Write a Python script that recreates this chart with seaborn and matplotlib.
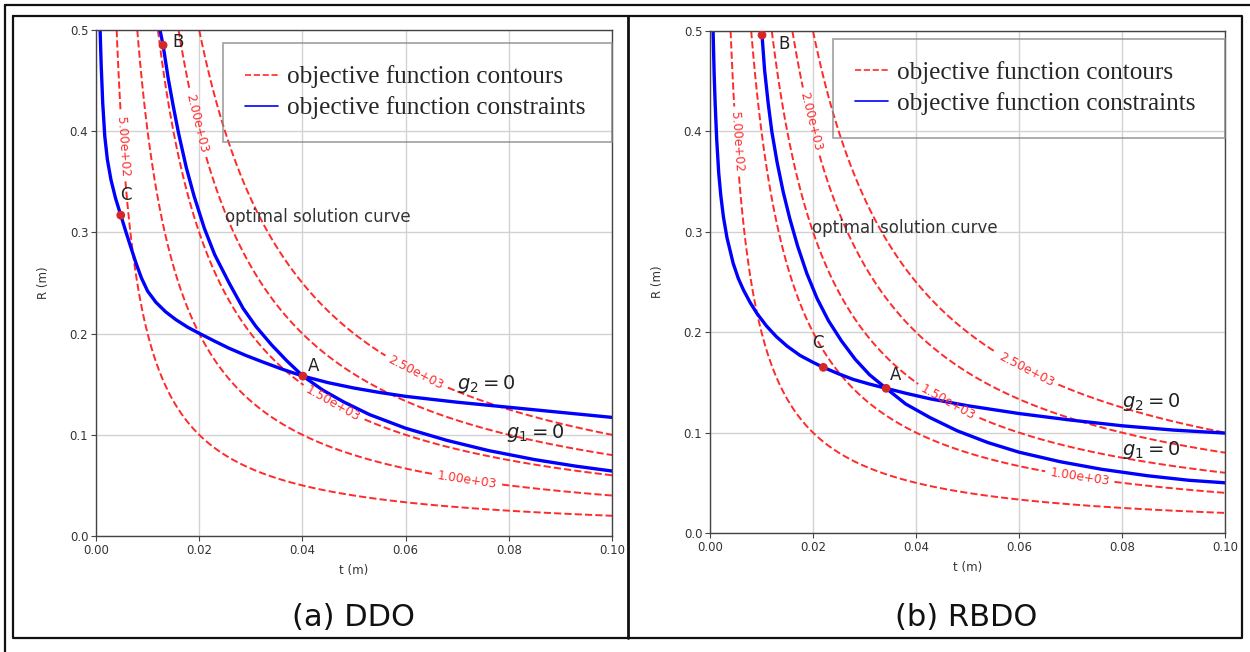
import numpy as np
import pandas as pd
import matplotlib
matplotlib.use("Agg")
import matplotlib.pyplot as plt
import seaborn as sns
from matplotlib.lines import Line2D
from matplotlib.ticker import FormatStrFormatter

# ---------------- data ----------------
contour_levels = [500, 1000, 1500, 2000, 2500]
objective_coef = 2.5e5          # objective value = coef * t * R (contour labels)

# (a) DDO
a_g2_t = [0.0008, 0.0010, 0.0013, 0.0017, 0.0022, 0.0029, 0.0038, 0.0048, 0.0058,
          0.0068, 0.0078, 0.0088, 0.0100, 0.0116, 0.0135, 0.0155, 0.0178, 0.0200,
          0.0230, 0.0258, 0.0290, 0.0323, 0.0360, 0.0401, 0.0450, 0.0500, 0.0550,
          0.0600, 0.0700, 0.0800, 0.0900, 0.1000]
a_g2_R = [0.500, 0.466, 0.428, 0.395, 0.372, 0.352, 0.3335, 0.317, 0.3005,
          0.2845, 0.2690, 0.2550, 0.2420, 0.2310, 0.2215, 0.2137, 0.2062, 0.2003,
          0.1925, 0.1855, 0.1785, 0.1720, 0.1650, 0.1580, 0.1515, 0.1462, 0.1418,
          0.1380, 0.1322, 0.1272, 0.1222, 0.1172]
a_g1_t = [0.0124, 0.0130, 0.0140, 0.0150, 0.0160, 0.0175, 0.0190, 0.0210, 0.0230,
          0.0258, 0.0285, 0.0310, 0.0340, 0.0370, 0.0401, 0.0440, 0.0480, 0.0530,
          0.0600, 0.0680, 0.0760, 0.0850, 0.0930, 0.1000]
a_g1_R = [0.500, 0.485, 0.452, 0.424, 0.398, 0.364, 0.336, 0.304, 0.278,
          0.250, 0.225, 0.207, 0.189, 0.173, 0.158, 0.144, 0.1325, 0.120,
          0.1065, 0.0945, 0.0845, 0.0755, 0.0690, 0.0642]
a_pts_t = [0.0401, 0.0130, 0.0048]
a_pts_R = [0.1580, 0.485, 0.317]

# (b) RBDO
b_g2_t = [0.0006, 0.0008, 0.0010, 0.0013, 0.0017, 0.0021, 0.0026, 0.0033, 0.0045,
          0.0055, 0.0065, 0.0078, 0.0091, 0.0110, 0.0129, 0.0150, 0.0175, 0.0200,
          0.0220, 0.0250, 0.0278, 0.0310, 0.0342, 0.0380, 0.0427, 0.0500, 0.0600,
          0.0700, 0.0800, 0.0900, 0.1000]
b_g2_R = [0.500, 0.458, 0.428, 0.392, 0.358, 0.336, 0.315, 0.294, 0.2686,
          0.2535, 0.2420, 0.2295, 0.2188, 0.2060, 0.1955, 0.1860, 0.1768, 0.1700,
          0.1650, 0.1585, 0.1530, 0.1483, 0.1441, 0.1392, 0.1337, 0.1268, 0.1190,
          0.1125, 0.1068, 0.1025, 0.0995]
b_g1_t = [0.0099, 0.0101, 0.0106, 0.0113, 0.0120, 0.0130, 0.0142, 0.0155, 0.0170,
          0.0188, 0.0208, 0.0230, 0.0255, 0.0282, 0.0310, 0.0342, 0.0380, 0.0427,
          0.0480, 0.0540, 0.0600, 0.0680, 0.0760, 0.0850, 0.0930, 0.1000]
b_g1_R = [0.500, 0.496, 0.461, 0.428, 0.400, 0.370, 0.340, 0.313, 0.286,
          0.2585, 0.2335, 0.2115, 0.1915, 0.1730, 0.1575, 0.1441, 0.1285, 0.1150,
          0.1018, 0.0900, 0.0805, 0.0710, 0.0635, 0.0570, 0.0525, 0.0500]
b_pts_t = [0.0342, 0.0101, 0.0220]
b_pts_R = [0.1441, 0.496, 0.165]

point_names = ["A", "B", "C"]
x_ticks = [0.00, 0.02, 0.04, 0.06, 0.08, 0.10]
y_ticks = [0.0, 0.1, 0.2, 0.3, 0.4, 0.5]
legend_labels = ["objective function contours", "objective function constraints"]
panel_titles = ["(a) DDO", "(b) RBDO"]

# ---------------- style ----------------
sns.set_theme(style="whitegrid")
plt.rcParams['font.family'] = ['DejaVu Sans']

W, H = 1250, 652
fig = plt.figure(figsize=(W / 100, H / 100), dpi=100)
fig.patch.set_facecolor("white")


def px_rect(l, t, r, b):
    return [l / W, 1 - b / H, (r - l) / W, (b - t) / H]


axA = fig.add_axes(px_rect(96, 30, 612, 536))
axB = fig.add_axes(px_rect(710, 31, 1225, 533))

RED = "#ff2b2b"
BLUE = "#0000ff"
DOT = "#d62728"

tg = np.linspace(0.0003, 0.1, 600)
rg = np.linspace(0.001, 0.5, 600)
TT, RR = np.meshgrid(tg, rg)
ZZ = objective_coef * TT * RR

panels = [
    dict(ax=axA, g1=(a_g1_t, a_g1_R), g2=(a_g2_t, a_g2_R), pts=(a_pts_t, a_pts_R),
         lbl_pos=[(0.0052, 0.385), (0.072, 0.056), (0.046, 0.131), (0.0196, 0.408), (0.062, 0.161)],
         pt_off=[((5, 1), 'left', 'bottom'), ((9, 3), 'left', 'center'), ((-1, 11), 'left', 'bottom')],
         g2_txt=(0.0700, 0.1395), g1_txt=(0.0795, 0.0905),
         opt_txt=(0.0250, 0.306),
         leg=(0.246, 0.974)),
    dict(ax=axB, g1=(b_g1_t, b_g1_R), g2=(b_g2_t, b_g2_R), pts=(b_pts_t, b_pts_R),
         lbl_pos=[(0.0054, 0.39), (0.0718, 0.0558), (0.0462, 0.130), (0.0198, 0.41), (0.0617, 0.165)],
         pt_off=[((4, 4), 'left', 'bottom'), ((16, -9), 'left', 'center'), ((0, 15), 'right', 'bottom')],
         g2_txt=(0.0800, 0.120), g1_txt=(0.0800, 0.0715),
         opt_txt=(0.0198, 0.295),
         leg=(0.239, 0.984)),
]

for p in panels:
    ax = p["ax"]
    ax.set_facecolor("white")
    cs = ax.contour(TT, RR, ZZ, levels=contour_levels, colors=RED,
                    linestyles="--", linewidths=1.4)
    ax.clabel(cs, inline=True, fontsize=8.8, fmt="%.2e", manual=p["lbl_pos"])

    df1 = pd.DataFrame({"t": p["g1"][0], "R": p["g1"][1]})
    df2 = pd.DataFrame({"t": p["g2"][0], "R": p["g2"][1]})
    sns.lineplot(data=df1, x="t", y="R", ax=ax, color=BLUE, linewidth=2.4, sort=False)
    sns.lineplot(data=df2, x="t", y="R", ax=ax, color=BLUE, linewidth=2.4, sort=False)

    dfp = pd.DataFrame({"t": p["pts"][0], "R": p["pts"][1]})
    sns.scatterplot(data=dfp, x="t", y="R", ax=ax, color=DOT, s=40,
                    edgecolor="none", zorder=5)
    for name, t, r, (off, ha, va) in zip(point_names, p["pts"][0], p["pts"][1], p["pt_off"]):
        ax.annotate(name, (t, r), xytext=off, textcoords="offset pixels",
                    ha=ha, va=va, fontsize=12, color="#222222")

    ax.text(*p["opt_txt"], "optimal solution curve", fontsize=12, color="#333333",
            ha="left", va="bottom")
    ax.text(*p["g2_txt"], r"$g_2=0$", fontsize=14, color="#222222", ha="left", va="bottom")
    ax.text(*p["g1_txt"], r"$g_1=0$", fontsize=14, color="#222222", ha="left", va="bottom")

    ax.set_xlim(0, 0.1)
    ax.set_ylim(0, 0.5)
    ax.set_xticks(x_ticks)
    ax.set_yticks(y_ticks)
    ax.xaxis.set_major_formatter(FormatStrFormatter("%.2f"))
    ax.yaxis.set_major_formatter(FormatStrFormatter("%.1f"))
    ax.set_xlabel("t (m)", fontsize=8.5, color="#333333", labelpad=5)
    ax.set_ylabel("R (m)", fontsize=8.5, color="#333333", labelpad=14)
    ax.tick_params(axis="both", which="both", bottom=True, left=True, length=3.5,
                   width=0.8, color="#444444", labelsize=8.5, labelcolor="#333333", pad=2)
    ax.grid(True, color="#d2d2d2", linewidth=1.0)
    for s in ax.spines.values():
        s.set_visible(True)
        s.set_color("#444444")
        s.set_linewidth(1.0)

    handles = [Line2D([], [], color=RED, ls="--", lw=1.2),
               Line2D([], [], color=BLUE, lw=1.2)]
    x0, ytop = p["leg"]
    leg = ax.legend(handles, legend_labels, loc="upper left",
                    bbox_to_anchor=(x0, 0.0, 1.0 - x0, ytop), mode="expand",
                    borderaxespad=0, prop={"family": "Liberation Serif", "size": 18.2},
                    frameon=True, fancybox=False, borderpad=0.88, labelspacing=0.32,
                    handlelength=1.3, handletextpad=0.35)
    fr = leg.get_frame()
    fr.set_facecolor("none")
    fr.set_edgecolor("#888888")
    fr.set_linewidth(1.2)

# panel captions
fig.text(354 / W, 1 - 617 / H, panel_titles[0], fontsize=22, ha="center", va="center",
         color="#111111")
fig.text(966 / W, 1 - 617 / H, panel_titles[1], fontsize=22, ha="center", va="center",
         color="#111111")


# table-like frame
def fline(xs, ys, lw=1.6):
    fig.add_artist(Line2D([x / W for x in xs], [1 - y / H for y in ys],
                          transform=fig.transFigure, color="#111111", lw=lw))


fline([5, 1250], [5, 5])
fline([5, 5], [5, 652])
fline([13, 1242, 1242, 13, 13], [16, 16, 638, 638, 16])
fline([628, 628], [16, 638], lw=2.0)

fig.savefig("out.png", dpi=100, facecolor="white")
